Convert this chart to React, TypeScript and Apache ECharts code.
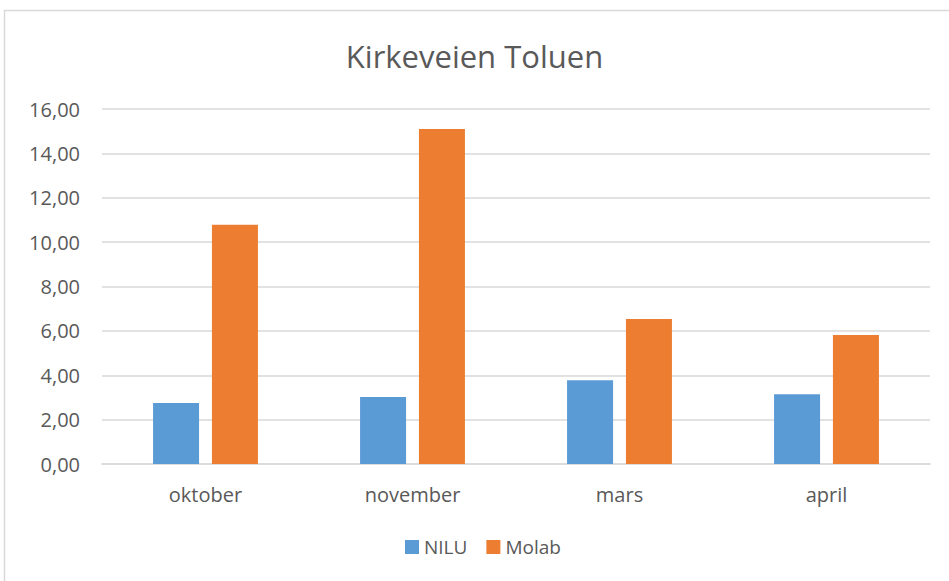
import React, { useEffect, useRef } from "react";
import * as echarts from "echarts";

const categories = ["oktober", "november", "mars", "april"];
const niluValues = [2.75, 3.02, 3.78, 3.14];
const molabValues = [10.78, 15.1, 6.54, 5.81];
const seriesNames = ["NILU", "Molab"];
const titleText = "Kirkeveien Toluen";

const FONT = "'Open Sans', sans-serif";
const TEXT = "#595959";
const GRID = "#d9d9d9";

export default function App() {
  const ref = useRef<HTMLDivElement>(null);
  useEffect(() => {
    if (!ref.current) return;
    const chart = echarts.init(ref.current, null, { renderer: "svg" });
    chart.setOption({
      animation: false,
      backgroundColor: "#ffffff",
      textStyle: { fontFamily: FONT },
      title: {
        text: titleText,
        left: "center",
        top: 35,
        textStyle: { fontSize: 31, fontWeight: "normal", color: TEXT, fontFamily: FONT },
      },
      graphic: [
        {
          type: "rect",
          shape: { x: 4.5, y: 10.5, width: 960, height: 600 },
          style: { fill: "none", stroke: GRID, lineWidth: 1.5 },
          silent: true,
        },
      ],
      legend: {
        data: seriesNames,
        left: 400,
        top: 532,
        icon: "rect",
        itemWidth: 14,
        itemHeight: 14,
        itemGap: 19,
        textStyle: { fontSize: 19, color: TEXT, fontFamily: FONT, lineHeight: 20 },
      },
      grid: { left: 102, right: 19, top: 109, bottom: 117 },
      xAxis: {
        type: "category",
        data: categories,
        axisLine: { lineStyle: { color: GRID, width: 1.5 } },
        axisTick: { show: false },
        axisLabel: { fontSize: 20, color: TEXT, margin: 20, fontFamily: FONT },
      },
      yAxis: {
        type: "value",
        min: 0,
        max: 16,
        interval: 2,
        axisLine: { show: false },
        axisTick: { show: false },
        splitLine: { lineStyle: { color: GRID, width: 1.5 } },
        axisLabel: {
          fontSize: 20,
          color: TEXT,
          margin: 22,
          fontFamily: FONT,
          formatter: (v: number) => v.toFixed(2).replace(".", ","),
        },
      },
      series: [
        {
          name: seriesNames[0],
          type: "bar",
          data: niluValues,
          barWidth: 46,
          barGap: "28%",
          itemStyle: { color: "#5B9BD5" },
        },
        {
          name: seriesNames[1],
          type: "bar",
          data: molabValues,
          barWidth: 46,
          barGap: "28%",
          itemStyle: { color: "#ED7D31" },
        },
      ],
    });
    return () => chart.dispose();
  }, []);
  return (
    <div
      ref={ref}
      style={{ position: "fixed", left: 0, top: 0, width: 949, height: 581 }}
    />
  );
}
